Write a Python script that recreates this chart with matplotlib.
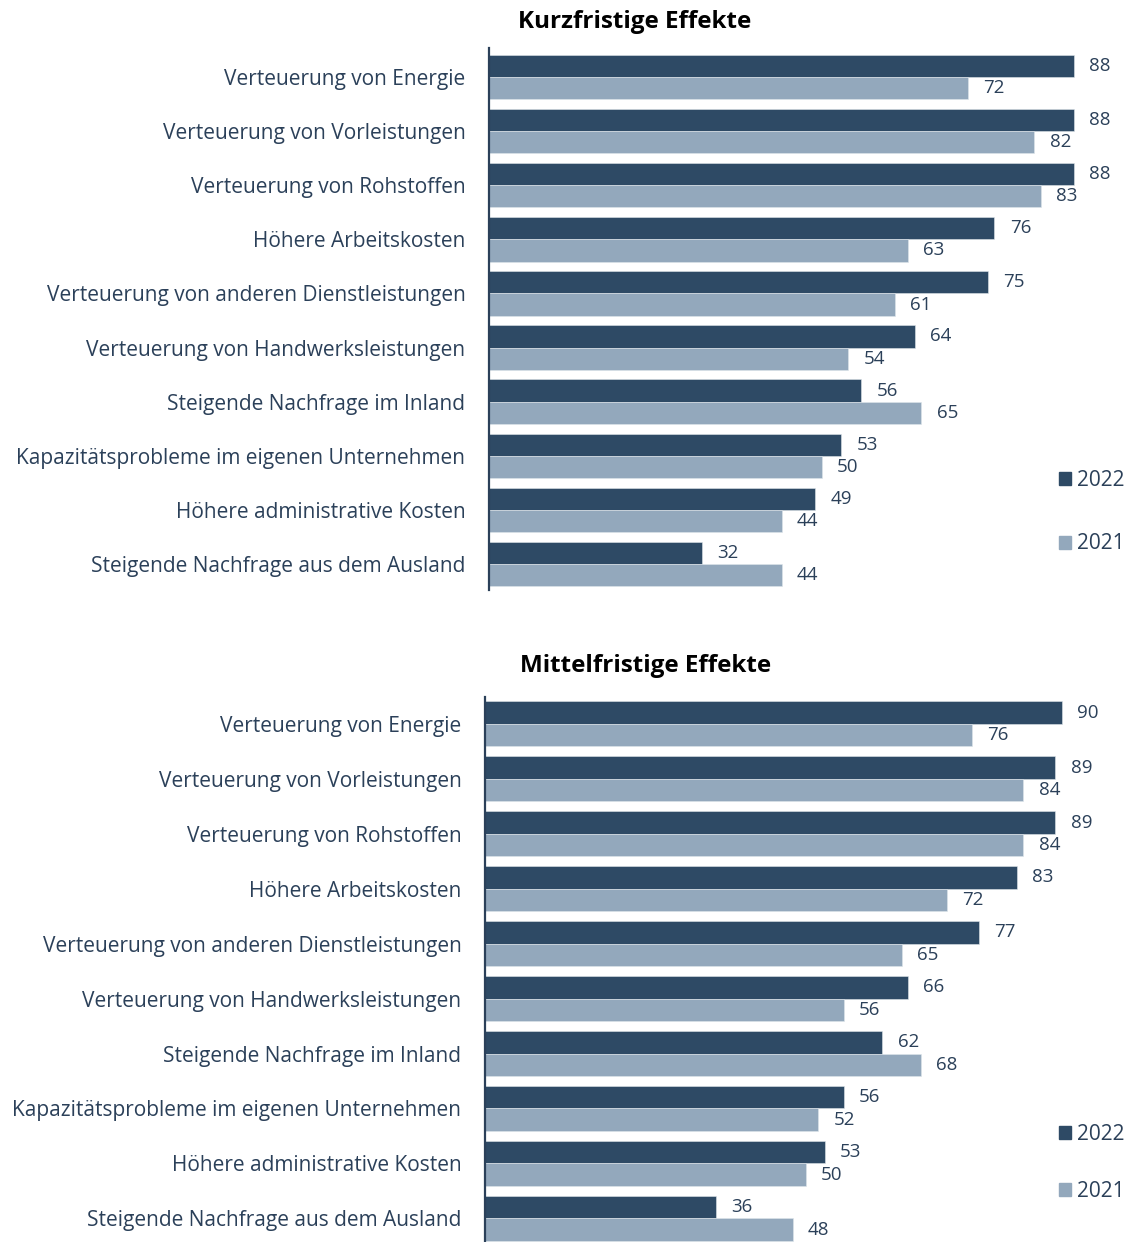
import numpy as np
import matplotlib
matplotlib.use("Agg")
import matplotlib.pyplot as plt
from matplotlib.patches import Patch

# ------------------ Daten ------------------
kategorien = [
    "Verteuerung von Energie",
    "Verteuerung von Vorleistungen",
    "Verteuerung von Rohstoffen",
    "Höhere Arbeitskosten",
    "Verteuerung von anderen Dienstleistungen",
    "Verteuerung von Handwerksleistungen",
    "Steigende Nachfrage im Inland",
    "Kapazitätsprobleme im eigenen Unternehmen",
    "Höhere administrative Kosten",
    "Steigende Nachfrage aus dem Ausland",
]
kurz_2022 = [88, 88, 88, 76, 75, 64, 56, 53, 49, 32]
kurz_2021 = [72, 82, 83, 63, 61, 54, 65, 50, 44, 44]
mittel_2022 = [90, 89, 89, 83, 77, 66, 62, 56, 53, 36]
mittel_2021 = [76, 84, 84, 72, 65, 56, 68, 52, 50, 48]
jahre = ["2022", "2021"]

DUNKEL = "#2E4A65"
HELL = "#93A8BC"
TEXT = "#2B4059"
FONT = "Open Sans"

W, H = 1130, 1242
fig = plt.figure(figsize=(W / 100, H / 100), dpi=100)


def panel(left_px, top_px, bottom_px, right_px, xmax, ylim, werte22, werte21,
          titel, titel_x, titel_y, leg_y, leg_spacing):
    ax = fig.add_axes([left_px / W, 1 - bottom_px / H,
                       (right_px - left_px) / W, (bottom_px - top_px) / H])
    y = np.arange(len(kategorien))
    h = 0.41
    ax.barh(y - h / 2, werte22, height=h, color=DUNKEL, edgecolor="#dfe5ea", linewidth=0.4)
    ax.barh(y + h / 2, werte21, height=h, color=HELL, edgecolor="#dfe5ea", linewidth=0.4)
    for yi, v in zip(y, werte22):
        ax.annotate(str(v), (v, yi - h / 2), xytext=(11, 0), textcoords="offset points",
                    va="center", ha="left", fontsize=13.5, color=TEXT, family=FONT)
    for yi, v in zip(y, werte21):
        ax.annotate(str(v), (v, yi + h / 2), xytext=(11, 0), textcoords="offset points",
                    va="center", ha="left", fontsize=13.5, color=TEXT, family=FONT)
    ax.set_xlim(0, xmax)
    ax.set_ylim(*ylim)
    ax.set_yticks(y)
    ax.set_yticklabels(kategorien, fontsize=15, color=TEXT, family=FONT)
    ax.tick_params(axis="y", length=0, pad=17)
    ax.set_xticks([])
    for s in ["top", "right", "bottom"]:
        ax.spines[s].set_visible(False)
    ax.spines["left"].set_color(TEXT)
    ax.spines["left"].set_linewidth(1.6)
    fig.text(titel_x / W, 1 - titel_y / H, titel, ha="center", va="center",
             fontsize=17.5, fontweight="bold", color="black", family=FONT)
    handles = [Patch(color=DUNKEL, label=jahre[0]), Patch(color=HELL, label=jahre[1])]
    leg = fig.legend(handles=handles, loc="upper left",
                     bbox_to_anchor=(1040 / W, 1 - leg_y / H), frameon=False,
                     handlelength=0.6, handleheight=0.6, handletextpad=0.3,
                     labelspacing=leg_spacing, prop={"family": FONT, "size": 15})
    for t in leg.get_texts():
        t.set_color(TEXT)
    return ax


panel(489, 48, 590, 1120, (1120 - 489) / 6.65, (9.48, -0.536),
      kurz_2022, kurz_2021, "Kurzfristige Effekte", 635, 22, 451, 2.05)
panel(485, 697, 1242, 1120, (1120 - 485) / 6.41, (9.43, -0.49),
      mittel_2022, mittel_2021, "Mittelfristige Effekte", 646, 666, 1105, 1.75)

fig.savefig("out.png", dpi=100)
